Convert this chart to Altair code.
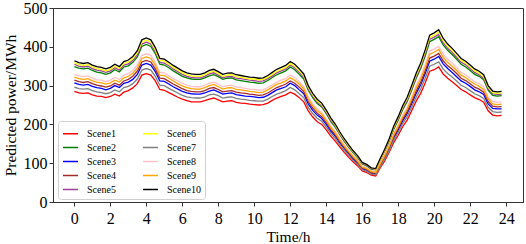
import altair as alt
import pandas as pd

# time grid (quarter hours)
hours = [i / 4 for i in range(96)]

scene10 = [364,359,357,359,353,349,347,343,347,355,349,362,
           366,375,390,418,423,418,398,370,368,360,352,345,
           338,333,330,329,329,333,339,342,336,329,332,333,
           328,326,324,322,321,319,320,326,334,342,347,352,
           362,355,343,330,300,280,265,255,237,217,201,181,
           163,147,132,119,102,97,88,86,112,136,163,195,
           220,248,270,300,332,358,392,430,436,444,422,407,
           396,383,370,363,353,343,337,328,300,286,284,285]
scene6 = [359,354,352,354,348,344,342,338,342,350,344,357,
          361,370,385,412,417,412,392,365,363,355,347,340,
          333,328,325,324,324,328,334,337,331,324,327,328,
          323,321,319,317,317,315,316,321,329,337,342,347,
          357,350,338,325,296,276,261,251,234,214,198,178,
          161,145,130,117,101,96,87,85,110,134,161,192,
          217,245,266,296,327,353,387,424,430,438,416,401,
          390,378,365,358,348,338,332,323,296,282,280,281]
scene5 = [355,350,348,350,344,340,338,334,338,346,340,353,
          356,365,380,407,412,407,388,360,358,351,343,336,
          329,324,321,320,320,324,330,333,327,320,323,324,
          319,318,316,314,313,311,312,318,325,333,338,343,
          353,346,334,321,292,273,258,248,231,211,196,176,
          159,143,129,116,99,94,86,84,109,132,159,190,
          214,242,263,292,323,349,382,419,425,432,411,396,
          386,373,360,354,344,334,328,319,292,279,277,278]
scene2 = [349,345,343,345,339,335,333,329,333,341,335,348,
          351,360,374,401,406,401,382,355,353,346,338,331,
          324,320,317,316,316,320,325,328,323,316,319,320,
          315,313,311,309,308,306,307,313,321,328,333,338,
          348,341,329,317,288,269,254,245,228,208,193,174,
          156,141,127,114,98,93,84,83,108,131,156,187,
          211,238,259,288,319,344,376,413,419,426,405,391,
          380,368,355,348,339,329,324,315,288,275,273,274]
scene8 = [329,325,323,325,319,315,314,310,314,321,315,327,
          331,339,353,378,382,378,360,334,333,325,318,312,
          306,301,298,297,297,301,306,309,304,297,300,301,
          297,295,293,291,290,288,289,295,302,309,314,318,
          327,321,310,298,271,253,240,231,214,196,182,164,
          147,133,119,108,92,88,80,78,101,123,147,176,
          199,224,244,271,300,324,354,389,394,401,381,368,
          358,346,334,328,319,310,305,297,271,259,257,258]
scene9 = [322,318,316,318,312,309,307,304,307,314,309,320,
          324,332,345,370,374,370,352,327,326,319,312,305,
          299,295,292,291,291,295,300,303,297,291,294,295,
          290,289,287,285,284,282,283,289,296,303,307,312,
          320,314,304,292,266,248,235,226,210,192,178,160,
          144,130,117,105,90,86,78,76,99,120,144,173,
          195,219,239,266,294,317,347,381,386,393,373,360,
          350,339,327,321,312,304,298,290,266,253,251,252]
scene4 = [314,310,308,310,305,301,299,296,299,306,301,312,
          316,324,337,361,365,361,343,319,318,311,304,298,
          292,287,285,284,284,287,293,295,290,284,286,287,
          283,281,280,278,277,275,276,281,288,295,299,304,
          312,306,296,285,259,242,229,220,205,187,173,156,
          141,127,114,103,88,84,76,74,97,117,141,168,
          190,214,233,259,286,309,338,371,376,383,364,351,
          342,331,319,313,305,296,291,283,259,247,245,246]
scene3 = [307,303,301,303,298,295,293,289,293,300,295,306,
          309,316,329,353,357,353,336,312,311,304,297,291,
          285,281,279,278,278,281,286,289,284,278,280,281,
          277,275,273,272,271,269,270,275,282,289,293,297,
          306,300,289,279,253,236,224,215,200,183,170,153,
          138,124,111,100,86,82,74,73,95,115,138,165,
          186,209,228,253,280,302,331,363,368,375,356,344,
          334,323,312,306,298,289,284,277,253,241,240,240]
scene7 = [296,292,291,292,287,284,282,279,282,289,284,295,
          298,305,317,340,344,340,324,301,300,293,287,281,
          275,271,269,268,268,271,276,278,274,268,270,271,
          267,265,264,262,261,260,260,265,272,278,282,287,
          295,289,279,269,244,228,216,208,193,177,164,147,
          133,120,107,97,83,79,72,70,91,111,133,159,
          179,202,220,244,270,291,319,350,355,361,343,331,
          322,312,301,295,287,279,274,267,244,233,231,232]
scene1 = [285,281,280,281,276,273,272,269,272,278,273,283,
          287,294,305,327,331,327,312,290,288,282,276,270,
          265,261,258,258,258,261,265,268,263,258,260,261,
          257,255,254,252,251,250,251,255,262,268,272,276,
          283,278,269,258,235,219,207,200,186,170,157,142,
          128,115,103,93,80,76,69,67,88,106,128,153,
          172,194,211,235,260,280,307,337,341,348,330,319,
          310,300,290,284,276,269,264,257,235,224,222,223]

names = ["Scene1", "Scene2", "Scene3", "Scene4", "Scene5",
         "Scene6", "Scene7", "Scene8", "Scene9", "Scene10"]
series = [scene1, scene2, scene3, scene4, scene5,
          scene6, scene7, scene8, scene9, scene10]
colors = ["#ff0000", "#008000", "#0000ff", "#a52a2a", "#a040a0",
          "#ffff00", "#808080", "#ffc0cb", "#ffa500", "#000000"]

rows = []
for name, vals in zip(names, series):
    for h, v in zip(hours, vals):
        rows.append({"hour": h, "power": v, "scene": name})
df = pd.DataFrame(rows)

color_scale = alt.Scale(domain=names, range=colors)

x_enc = alt.X("hour:Q",
              scale=alt.Scale(domain=[-1.1875, 24.9375], nice=False, zero=False),
              axis=alt.Axis(values=list(range(0, 25, 2)), title="Time/h",
                            titlePadding=3, labelPadding=4))
y_enc = alt.Y("power:Q",
              scale=alt.Scale(domain=[0, 500], nice=False),
              axis=alt.Axis(values=[0, 100, 200, 300, 400, 500],
                            title="Predicted power/MWh", titlePadding=5,
                            labelPadding=2))
c_enc = alt.Color("scene:N", scale=color_scale,
                  legend=alt.Legend(title=None, orient="none", legendX=5,
                                    legendY=113, columns=2,
                                    symbolType="stroke", symbolSize=225,
                                    symbolStrokeWidth=1.5,
                                    labelFont="Liberation Serif",
                                    labelFontSize=10, labelColor="black",
                                    labelOffset=8, padding=4,
                                    strokeColor="#d0d0d0", fillColor="white",
                                    cornerRadius=3, rowPadding=0,
                                    columnPadding=24))

layers = []
for name in names:
    layers.append(
        alt.Chart(df)
        .transform_filter(alt.datum.scene == name)
        .mark_line(strokeWidth=1.3)
        .encode(x=x_enc, y=y_enc, color=c_enc)
    )

chart = (
    alt.layer(*layers)
    .properties(width=470, height=194,
                autosize=alt.AutoSizeParams(type="none"),
                padding={"left": 53, "top": 8, "right": 3, "bottom": 42})
    .configure_view(stroke="#333333", strokeWidth=1)
    .configure_axis(domainColor="#333333", tickColor="#333333", tickSize=4,
                    labelFont="Liberation Serif", titleFont="Liberation Serif",
                    labelFontSize=16, titleFontSize=15.5, labelColor="black",
                    titleColor="black", titleFontWeight="normal", grid=False)
)

chart.save("out.html", embed_options={"renderer": "svg", "actions": False})
